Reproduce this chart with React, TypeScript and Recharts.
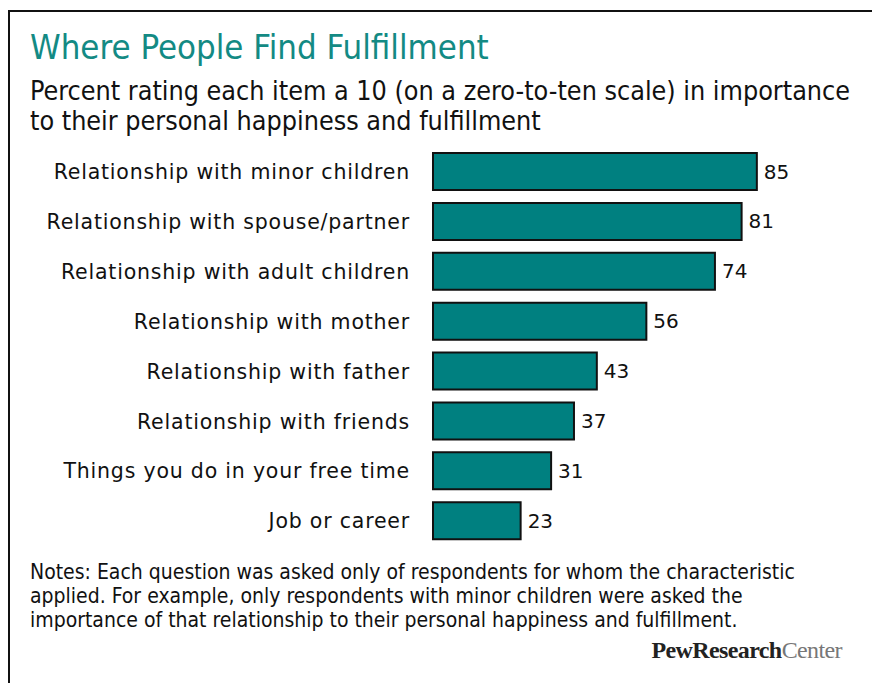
import { Bar, BarChart, LabelList, XAxis, YAxis } from "recharts";

const TEAL = "#008080";
const TITLE = "#138a84";

const categories = [
  "Relationship with minor children",
  "Relationship with spouse/partner",
  "Relationship with adult children",
  "Relationship with mother",
  "Relationship with father",
  "Relationship with friends",
  "Things you do in your free time",
  "Job or career",
];
const percents = [85, 81, 74, 56, 43, 37, 31, 23];

const rows = categories.map((name, i) => ({ name, value: percents[i] }));

const narrow = "'Liberation Sans Narrow', 'DejaVu Sans Condensed', sans-serif";
const wide = "'DejaVu Sans', Verdana, sans-serif";

export default function App() {
  return (
    <div
      style={{
        position: "absolute",
        left: 0,
        top: 0,
        width: 872,
        height: 683,
        overflow: "hidden",
        background: "#fff",
      }}
    >
      <div
        style={{
          position: "absolute",
          left: 8,
          top: 10,
          width: 900,
          height: 700,
          borderLeft: "2px solid #111",
          borderTop: "2px solid #111",
        }}
      />
      <div
        style={{
          position: "absolute",
          left: 30,
          top: 27,
          fontFamily: narrow,
          fontSize: 34.5,
          color: TITLE,
          whiteSpace: "nowrap",
        }}
      >
        Where People Find Fulfillment
      </div>
      <div
        style={{
          position: "absolute",
          left: 30,
          top: 76,
          fontFamily: narrow,
          fontSize: 26.7,
          lineHeight: "30px",
          color: "#111",
          whiteSpace: "nowrap",
        }}
      >
        Percent rating each item a 10 (on a zero-to-ten scale) in importance
        <br />
        to their personal happiness and fulfillment
      </div>

      <div style={{ position: "absolute", left: 0, top: 0 }}>
        <BarChart
          width={872}
          height={683}
          data={rows}
          layout="vertical"
          margin={{ top: 147, right: 58, bottom: 137, left: 0 }}
          barSize={37}
        >
          <XAxis type="number" domain={[0, 100]} hide />
          <YAxis
            type="category"
            dataKey="name"
            width={433}
            axisLine={false}
            tickLine={false}
            tickSize={0}
            tickMargin={23}
            interval={0}
            tick={{ fill: "#111", fontSize: 20.5, fontFamily: wide, letterSpacing: 0.8 }}
          />
          <Bar
            dataKey="value"
            fill={TEAL}
            stroke="#111"
            strokeWidth={2}
            isAnimationActive={false}
          >
            <LabelList
              dataKey="value"
              position="right"
              offset={7}
              style={{ fill: "#111", fontSize: 20, fontFamily: wide }}
            />
          </Bar>
        </BarChart>
      </div>

      <div
        style={{
          position: "absolute",
          left: 30,
          top: 560,
          fontFamily: narrow,
          fontSize: 21,
          lineHeight: "24px",
          color: "#111",
          whiteSpace: "nowrap",
        }}
      >
        Notes: Each question was asked only of respondents for whom the characteristic
        <br />
        applied. For example, only respondents with minor children were asked the
        <br />
        importance of that relationship to their personal happiness and fulfillment.
      </div>
      <div
        style={{
          position: "absolute",
          right: 30,
          top: 637,
          fontFamily: "'Liberation Serif', 'DejaVu Serif', serif",
          fontSize: 24,
          color: "#222",
          letterSpacing: -0.6,
          whiteSpace: "nowrap",
        }}
      >
        <span style={{ fontWeight: 600 }}>PewResearch</span>
        <span style={{ color: "#777" }}>Center</span>
      </div>
    </div>
  );
}
